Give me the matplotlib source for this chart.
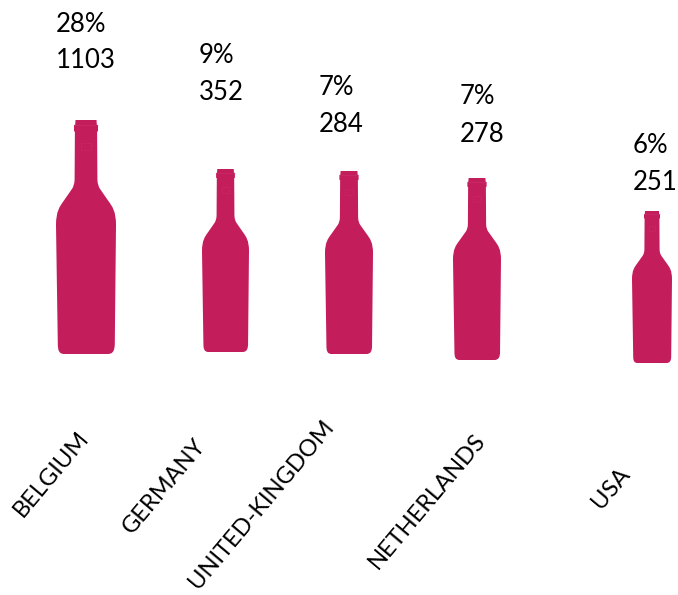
import matplotlib
matplotlib.use("Agg")
import matplotlib.pyplot as plt
from matplotlib.path import Path
from matplotlib.patches import PathPatch, Rectangle

countries = ["BELGIUM", "GERMANY", "UNITED-KINGDOM", "NETHERLANDS", "USA"]
shares = ["28%", "9%", "7%", "7%", "6%"]
volumes = [1103, 352, 284, 278, 251]

# bottle placement (pixels)
centers = [86, 225.5, 349, 477, 652]
half_widths = [30, 23.5, 24, 24, 20]
tops = [120, 169, 171, 178, 211]
bottoms = [354, 352, 354, 360, 363]
label_x = [56, 199, 319, 460, 633]
share_y = [24.5, 55.5, 87.5, 96.5, 145.5]
volume_y = [61, 93, 125, 134, 182]
name_xy = [(51, 474), (164, 486), (261, 504), (427, 501), (611, 488)]

COLOR = "#C41D5C"
FONT = "Lato"

# half outline of a unit bottle: u = sideways (-1..1), v = down from the top (0..1)
BOTTLE = [
    (Path.MOVETO, (-0.35, 0.0)), (Path.LINETO, (0.35, 0.0)),
    (Path.LINETO, (0.36, 0.02)), (Path.LINETO, (0.40, 0.022)),
    (Path.LINETO, (0.40, 0.048)), (Path.LINETO, (0.37, 0.05)),
    (Path.LINETO, (0.38, 0.255)),
    (Path.CURVE4, (0.39, 0.275)), (Path.CURVE4, (0.42, 0.285)), (Path.CURVE4, (0.47, 0.295)),
    (Path.LINETO, (0.74, 0.345)),
    (Path.CURVE4, (0.88, 0.37)), (Path.CURVE4, (1.0, 0.39)), (Path.CURVE4, (1.0, 0.45)),
    (Path.LINETO, (0.96, 0.955)),
    (Path.CURVE4, (0.96, 0.985)), (Path.CURVE4, (0.90, 1.0)), (Path.CURVE4, (0.72, 1.0)),
    (Path.LINETO, (-0.72, 1.0)),
    (Path.CURVE4, (-0.90, 1.0)), (Path.CURVE4, (-0.94, 0.985)), (Path.CURVE4, (-0.94, 0.955)),
    (Path.LINETO, (-1.0, 0.45)),
    (Path.CURVE4, (-1.0, 0.39)), (Path.CURVE4, (-0.88, 0.37)), (Path.CURVE4, (-0.74, 0.345)),
    (Path.LINETO, (-0.47, 0.295)),
    (Path.CURVE4, (-0.42, 0.285)), (Path.CURVE4, (-0.39, 0.275)), (Path.CURVE4, (-0.38, 0.255)),
    (Path.LINETO, (-0.37, 0.05)), (Path.LINETO, (-0.40, 0.048)),
    (Path.LINETO, (-0.40, 0.022)), (Path.LINETO, (-0.36, 0.02)),
    (Path.CLOSEPOLY, (-0.35, 0.0)),
]

fig = plt.figure(figsize=(6.78, 5.95), dpi=100)
ax = fig.add_axes([0, 0, 1, 1])
ax.set_xlim(0, 678)
ax.set_ylim(595, 0)
ax.axis("off")

for cx, hw, top, bottom in zip(centers, half_widths, tops, bottoms):
    h = bottom - top
    verts = [(cx + u * hw, top + v * h) for _, (u, v) in BOTTLE]
    codes = [c for c, _ in BOTTLE]
    ax.add_patch(PathPatch(Path(verts, codes), facecolor=COLOR, edgecolor="none"))
    # faint collar line and neck mark
    ax.plot([cx - 0.39 * hw, cx + 0.39 * hw], [top + 0.022 * h] * 2,
            color="#D2487C", lw=0.4, alpha=0.45)
    ax.add_patch(Rectangle((cx - 0.17 * hw, top + 0.10 * h), 0.34 * hw, 0.03 * h,
                           facecolor="none", edgecolor="#D2487C", lw=0.4, alpha=0.3))

for x, sy, vy, s, v in zip(label_x, share_y, volume_y, shares, volumes):
    ax.text(x, sy, s, family=FONT, fontsize=18.5, color="black", ha="left", va="center")
    ax.text(x, vy, str(v), family=FONT, fontsize=18.5, color="black", ha="left", va="center")

for (x, y), name in zip(name_xy, countries):
    ax.text(x, y, name, family=FONT, fontsize=17, color="black", rotation=50,
            rotation_mode="default", ha="center", va="center", clip_on=False)

fig.savefig("out.png", dpi=100, facecolor="white")
